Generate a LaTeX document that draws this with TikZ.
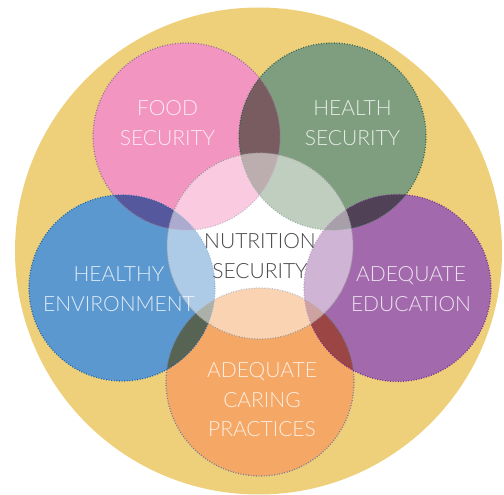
\documentclass[tikz,border=0pt]{standalone}
\usepackage{fontspec}
\IfFontExistsTF{Lato Light}{\setmainfont{Lato Light}}{\setmainfont{Lato}}
\definecolor{cyellow}{HTML}{EECF7A}
\definecolor{cpink}{HTML}{F395C1}
\definecolor{cgreen}{HTML}{7F9E80}
\definecolor{cblue}{HTML}{5B98D0}
\definecolor{cpurple}{HTML}{A26AAC}
\definecolor{corange}{HTML}{F5A766}
\definecolor{bpink}{HTML}{8C6E8E}
\definecolor{bgreen}{HTML}{2F6148}
\definecolor{bblue}{HTML}{1A64A8}
\definecolor{bpurple}{HTML}{74308A}
\definecolor{borange}{HTML}{6E7892}
\definecolor{bcenter}{HTML}{9A9A9A}
\definecolor{ctext}{HTML}{4A4A4A}
\tikzset{
  rim/.style={line width=1.2pt, dash pattern=on 0.9pt off 1.7pt},
  lbl/.style={align=center, text=white, text opacity=0.8, font=\fontsize{21}{29.5}\selectfont},
}
\begin{document}
\begin{tikzpicture}[x=1pt,y=-1pt]
\useasboundingbox (0,0) rectangle (504,495);
% outer yellow disc
\fill[cyellow] (258.5,251) circle (243.5);
% white base under the colored discs
\fill[white] (186.5,136.5) circle (93.5);
\fill[white] (332.5,136.5) circle (93.5);
\fill[white] (122,288) circle (93);
\fill[white] (397.5,288) circle (93.5);
\fill[white] (260,382) circle (94);
\fill[white] (260,246) circle (93);
% colored discs, multiplied where they overlap
\begin{scope}[blend mode=multiply]
\fill[cpink] (186.5,136.5) circle (93.5);
\fill[cgreen] (332.5,136.5) circle (93.5);
\fill[cblue] (122,288) circle (93);
\fill[cpurple] (397.5,288) circle (93.5);
\fill[corange] (260,382) circle (94);
\end{scope}
% dotted rims
\draw[rim,bpink] (186.5,136.5) circle (93.5);
\draw[rim,bgreen] (332.5,136.5) circle (93.5);
\draw[rim,bblue] (122,288) circle (93);
\draw[rim,bpurple] (397.5,288) circle (93.5);
\draw[rim,borange] (260,382) circle (94);
% central disc
\fill[white,fill opacity=0.5] (260,246) circle (93);
\draw[rim,bcenter] (260,246) circle (93);
% labels
\node[lbl] (food) at (167.5,123) {FOOD\\SECURITY};
\node[lbl] (health) at (352.5,123) {HEALTH\\SECURITY};
\node[lbl] (env) at (119,289) {HEALTHY\\ENVIRONMENT};
\node[lbl] (edu) at (411,289) {ADEQUATE\\EDUCATION};
\node[lbl] (care) at (262,400) {ADEQUATE\\CARING\\PRACTICES};
\node[lbl,text=ctext,text opacity=1] (nut) at (260,256) {NUTRITION\\SECURITY};
\end{tikzpicture}
\end{document}
